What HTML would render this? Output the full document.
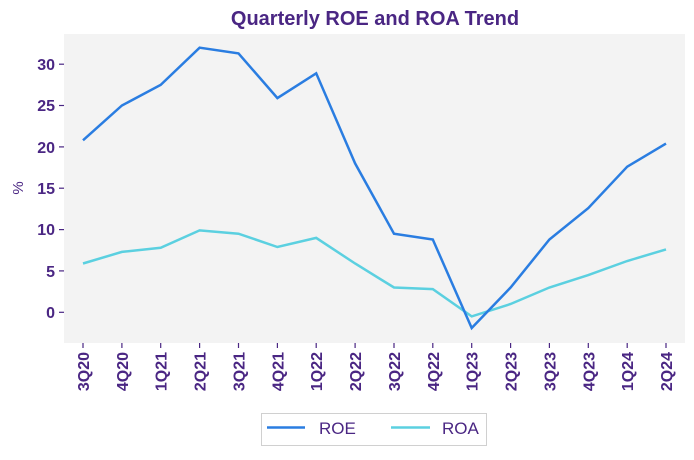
<!DOCTYPE html>
<html><head><meta charset="utf-8"><style>
body{margin:0;background:#fff;}
svg text{font-family:"Liberation Sans",sans-serif;fill:#4a2683;}
</style></head><body>
<svg width="694" height="455" viewBox="0 0 694 455" xmlns="http://www.w3.org/2000/svg">
<text x="375" y="25" text-anchor="middle" font-size="20" font-weight="bold">Quarterly ROE and ROA Trend</text>
<rect x="64" y="34" width="621" height="309" fill="#f3f3f3"/>
<g stroke="#4a2683" stroke-width="1.2">
<line x1="59" x2="64" y1="312.3" y2="312.3"/><line x1="59" x2="64" y1="270.9" y2="270.9"/><line x1="59" x2="64" y1="229.6" y2="229.6"/><line x1="59" x2="64" y1="188.2" y2="188.2"/><line x1="59" x2="64" y1="146.9" y2="146.9"/><line x1="59" x2="64" y1="105.5" y2="105.5"/><line x1="59" x2="64" y1="64.2" y2="64.2"/>
</g>
<g font-size="16" font-weight="bold" text-anchor="end">
<text x="55" y="318">0</text><text x="55" y="277">5</text><text x="55" y="235">10</text><text x="55" y="194">15</text><text x="55" y="153">20</text><text x="55" y="111">25</text><text x="55" y="70">30</text>
</g>
<text transform="translate(23,188) rotate(-90)" text-anchor="middle" font-size="15">%</text>
<g stroke="#4a2683" stroke-width="1.2">
<line x1="83" x2="83" y1="343" y2="348"/><line x1="121.9" x2="121.9" y1="343" y2="348"/><line x1="160.7" x2="160.7" y1="343" y2="348"/><line x1="199.6" x2="199.6" y1="343" y2="348"/><line x1="238.5" x2="238.5" y1="343" y2="348"/><line x1="277.4" x2="277.4" y1="343" y2="348"/><line x1="316.2" x2="316.2" y1="343" y2="348"/><line x1="355.1" x2="355.1" y1="343" y2="348"/><line x1="394" x2="394" y1="343" y2="348"/><line x1="432.8" x2="432.8" y1="343" y2="348"/><line x1="471.7" x2="471.7" y1="343" y2="348"/><line x1="510.6" x2="510.6" y1="343" y2="348"/><line x1="549.4" x2="549.4" y1="343" y2="348"/><line x1="588.3" x2="588.3" y1="343" y2="348"/><line x1="627.2" x2="627.2" y1="343" y2="348"/><line x1="666" x2="666" y1="343" y2="348"/>
</g>
<g font-size="16" font-weight="bold" text-anchor="end">
<text transform="translate(89,352) rotate(-90)">3Q20</text>
<text transform="translate(127.9,352) rotate(-90)">4Q20</text>
<text transform="translate(166.7,352) rotate(-90)">1Q21</text>
<text transform="translate(205.6,352) rotate(-90)">2Q21</text>
<text transform="translate(244.5,352) rotate(-90)">3Q21</text>
<text transform="translate(283.4,352) rotate(-90)">4Q21</text>
<text transform="translate(322.2,352) rotate(-90)">1Q22</text>
<text transform="translate(361.1,352) rotate(-90)">2Q22</text>
<text transform="translate(400,352) rotate(-90)">3Q22</text>
<text transform="translate(438.8,352) rotate(-90)">4Q22</text>
<text transform="translate(477.7,352) rotate(-90)">1Q23</text>
<text transform="translate(516.6,352) rotate(-90)">2Q23</text>
<text transform="translate(555.4,352) rotate(-90)">3Q23</text>
<text transform="translate(594.3,352) rotate(-90)">4Q23</text>
<text transform="translate(633.2,352) rotate(-90)">1Q24</text>
<text transform="translate(672,352) rotate(-90)">2Q24</text>
</g>
<polyline fill="none" stroke="#5bd0e0" stroke-width="2.5" points="83,263.5 121.9,251.9 160.7,247.8 199.6,230.4 238.5,233.7 277.4,247 316.2,237.9 355.1,263.5 394,287.5 432.8,289.1 471.7,316.4 510.6,304 549.4,287.5 588.3,275.1 627.2,261 666,249.4"/>
<polyline fill="none" stroke="#2a7de1" stroke-width="2.5" points="83,140.3 121.9,105.5 160.7,84.9 199.6,47.7 238.5,53.4 277.4,98.1 316.2,73.3 355.1,163.4 394,233.7 432.8,239.5 471.7,328 510.6,287.5 549.4,239.5 588.3,208.1 627.2,166.7 666,143.6"/>
<rect x="261.5" y="413.5" width="225" height="32" fill="#fff" stroke="#d0d0d0"/>
<line x1="267" x2="305" y1="427.5" y2="427.5" stroke="#2a7de1" stroke-width="2.5"/>
<text x="319" y="434" font-size="17">ROE</text>
<line x1="391" x2="430" y1="427.5" y2="427.5" stroke="#5bd0e0" stroke-width="2.5"/>
<text x="442" y="434" font-size="17">ROA</text>
</svg>
</body></html>
